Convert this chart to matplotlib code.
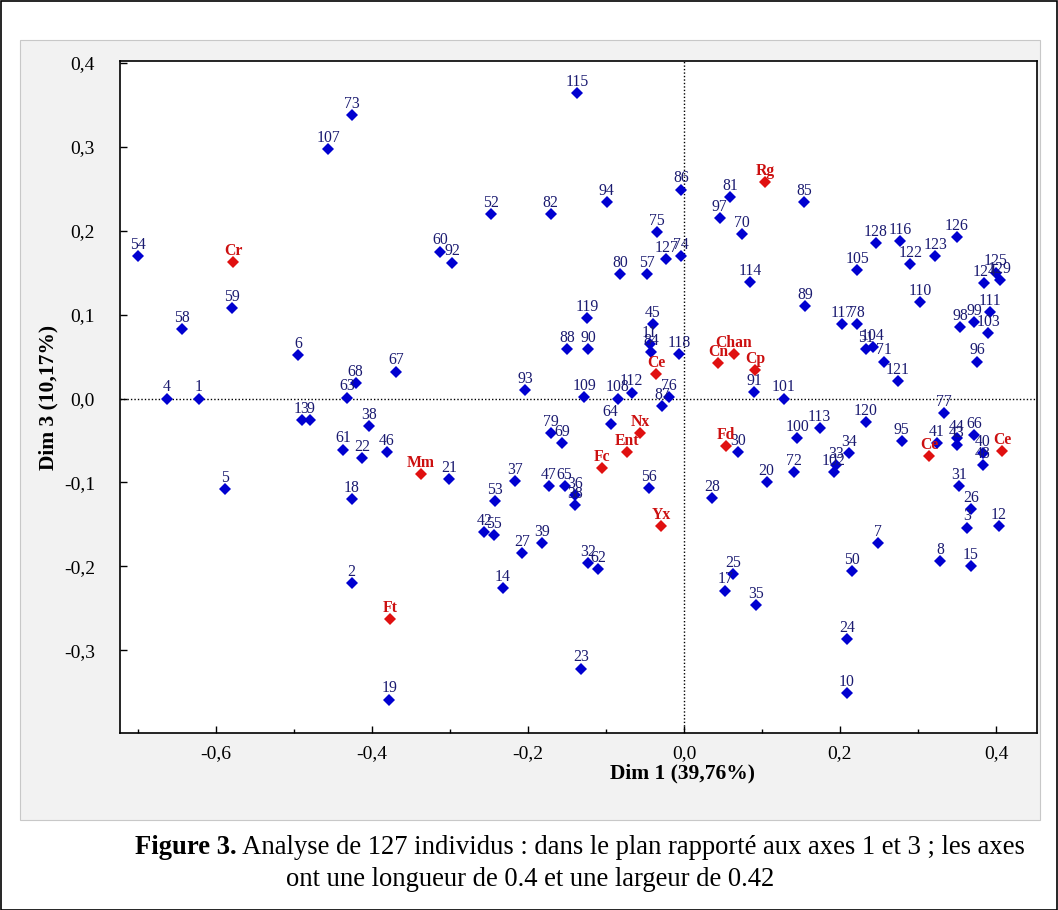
import matplotlib
matplotlib.use("Agg")
import matplotlib.pyplot as plt
from matplotlib.ticker import MultipleLocator, FuncFormatter
from matplotlib.patches import Rectangle

# ---- data (Dim 1, Dim 3 coordinates) ----
ind_labels = ["1", "2", "3", "4", "5", "6", "7", "8", "9", "10",
              "11", "12", "13", "14", "15", "17", "18", "19", "20", "21",
              "22", "23", "24", "25", "26", "27", "28", "30", "31", "32",
              "33", "34", "35", "36", "38", "37", "38", "39", "40", "41",
              "42", "43", "44", "45", "46", "47", "48", "50", "51", "52",
              "53", "54", "55", "56", "57", "58", "59", "60", "61", "62",
              "63", "64", "65", "66", "67", "68", "69", "70", "71", "72",
              "73", "74", "75", "76", "77", "78", "79", "80", "81", "82",
              "84", "85", "86", "87", "88", "89", "90", "91", "92", "93",
              "94", "95", "96", "97", "98", "99", "100", "101", "102", "103",
              "104", "105", "107", "108", "109", "110", "111", "112", "113", "114",
              "115", "116", "117", "118", "119", "120", "121", "122", "123", "124",
              "125", "126", "127", "128", "129"]
ind_dim1 = [-0.622, -0.426, 0.363, -0.663, -0.588, -0.495, 0.249, 0.328, -0.479, 0.209,
            -0.044, 0.404, -0.490, -0.232, 0.368, 0.053, -0.426, -0.378, 0.106, -0.301,
            -0.413, -0.132, 0.209, 0.063, 0.368, -0.208, 0.036, 0.069, 0.353, -0.123,
            0.195, 0.212, 0.092, -0.140, -0.140, -0.217, -0.404, -0.182, 0.383, 0.324,
            -0.256, 0.350, 0.350, -0.040, -0.381, -0.173, 0.383, 0.215, 0.233, -0.247,
            -0.242, -0.700, -0.244, -0.045, -0.047, -0.644, -0.579, -0.313, -0.437, -0.110,
            -0.432, -0.094, -0.153, 0.372, -0.369, -0.421, -0.156, 0.074, 0.256, 0.141,
            -0.426, -0.004, -0.035, -0.019, 0.333, 0.222, -0.171, -0.082, 0.059, -0.171,
            -0.042, 0.154, -0.004, -0.028, -0.150, 0.155, -0.123, 0.090, -0.297, -0.204,
            -0.099, 0.279, 0.376, 0.046, 0.354, 0.372, 0.145, 0.128, 0.192, 0.390,
            0.242, 0.222, -0.456, -0.085, -0.128, 0.303, 0.392, -0.067, 0.174, 0.085,
            -0.137, 0.277, 0.203, -0.006, -0.124, 0.233, 0.274, 0.290, 0.322, 0.385,
            0.400, 0.350, -0.023, 0.246, 0.405]
ind_dim3 = [0.000, -0.220, -0.154, 0.000, -0.108, 0.052, -0.172, -0.194, -0.026, -0.351,
            0.065, -0.152, -0.026, -0.226, -0.200, -0.229, -0.120, -0.359, -0.100, -0.096,
            -0.071, -0.322, -0.287, -0.209, -0.132, -0.184, -0.119, -0.064, -0.104, -0.196,
            -0.079, -0.065, -0.246, -0.115, -0.127, -0.098, -0.033, -0.172, -0.065, -0.053,
            -0.159, -0.055, -0.047, 0.089, -0.064, -0.104, -0.079, -0.206, 0.059, 0.220,
            -0.122, 0.170, -0.163, -0.107, 0.148, 0.083, 0.108, 0.175, -0.061, -0.203,
            0.001, -0.030, -0.104, -0.044, 0.032, 0.018, -0.053, 0.196, 0.044, -0.088,
            0.338, 0.170, 0.198, 0.002, -0.017, 0.089, -0.041, 0.148, 0.240, 0.220,
            0.055, 0.234, 0.249, -0.009, 0.059, 0.110, 0.059, 0.008, 0.162, 0.010,
            0.234, -0.051, 0.044, 0.215, 0.085, 0.091, -0.047, 0.000, -0.088, 0.078,
            0.061, 0.153, 0.297, 0.000, 0.002, 0.115, 0.103, 0.007, -0.035, 0.139,
            0.364, 0.188, 0.089, 0.053, 0.096, -0.028, 0.021, 0.160, 0.170, 0.138,
            0.150, 0.192, 0.166, 0.185, 0.141]

var_labels = ["Cr", "Rg", "Chan", "Cn", "Cp", "Ce", "Nx", "Ent", "Fc", "Fd",
              "Yx", "Mm", "Ft", "Ce", "Ce"]
var_dim1 = [-0.578, 0.104, 0.064, 0.044, 0.091, -0.036, -0.056, -0.073, -0.105, 0.054,
            -0.029, -0.337, -0.377, 0.314, 0.408]
var_dim3 = [0.163, 0.258, 0.053, 0.042, 0.034, 0.029, -0.041, -0.064, -0.083, -0.057,
            -0.152, -0.090, -0.263, -0.069, -0.063]

x_title = "Dim 1 (39,76%)"
y_title = "Dim 3 (10,17%)"
caption_bold = "Figure 3."
caption_rest = " Analyse de 127 individus : dans le plan rapporté aux axes 1 et 3 ; les axes"
caption_line2 = "ont une longueur de 0.4 et une largeur de 0.42"

# ---- figure ----
W, H = 1058, 910
fig = plt.figure(figsize=(W / 100, H / 100), dpi=100)
fig.patch.set_facecolor("white")
serif = ["Liberation Serif", "DejaVu Serif"]

# outer border and grey panel
fig.add_artist(Rectangle((0.5 / W, 0.5 / H), 1 - 1.5 / W, 1 - 1.5 / H, transform=fig.transFigure,
                         fill=False, edgecolor="black", linewidth=1.2))
fig.add_artist(Rectangle((20 / W, 1 - 820 / H), 1020 / W, 780 / H, transform=fig.transFigure,
                         facecolor="#f2f2f2", edgecolor="#c8c8c8", linewidth=0.8, zorder=0))

ax = fig.add_axes([120 / W, 1 - 733 / H, (1037 - 120) / W, (733 - 61) / H])
ax.set_facecolor("white")
ax.set_xlim(-0.7231, 0.4526)
ax.set_ylim(-0.3987, 0.4023)

ax.axhline(0, color="black", linestyle=(0, (1, 1.5)), linewidth=1.0, zorder=1)
ax.axvline(0, color="black", linestyle=(0, (1, 1.5)), linewidth=1.0, zorder=1)

ax.plot(ind_dim1, ind_dim3, linestyle="none", marker="D", markersize=6.3,
        color="#0000d0", markeredgewidth=0, zorder=3)
ax.plot(var_dim1, var_dim3, linestyle="none", marker="D", markersize=6.3,
        color="#e01010", markeredgewidth=0, zorder=3)

for lab, x, y in zip(ind_labels, ind_dim1, ind_dim3):
    ax.annotate(lab, (x, y), xytext=(0, 5.2), textcoords="offset points",
                ha="center", va="baseline", fontsize=11.3, family=serif,
                color="#1a1a70", zorder=4)
for lab, x, y in zip(var_labels, var_dim1, var_dim3):
    ax.annotate(lab, (x, y), xytext=(0, 5.2), textcoords="offset points",
                ha="center", va="baseline", fontsize=11.3, family=serif,
                color="#cc1010", fontweight="bold", zorder=4)

comma = FuncFormatter(lambda v, p: ("%.1f" % v).replace(".", ",").replace("-0,0", "0,0"))
ax.xaxis.set_major_locator(MultipleLocator(0.2))
ax.xaxis.set_minor_locator(MultipleLocator(0.1))
ax.yaxis.set_major_locator(MultipleLocator(0.1))
ax.xaxis.set_major_formatter(comma)
ax.yaxis.set_major_formatter(comma)
ax.tick_params(axis="x", which="major", direction="in", length=5, width=1,
               labelsize=14, pad=9)
ax.tick_params(axis="y", which="major", direction="in", length=5, width=1,
               labelsize=14, pad=18)
ax.tick_params(axis="both", which="minor", direction="in", length=3, width=1)
for t in ax.get_xticklabels() + ax.get_yticklabels():
    t.set_family(serif)
for s in ax.spines.values():
    s.set_linewidth(1.2)

ax.set_xlabel(x_title, fontsize=15.5, fontweight="bold", family=serif)
ax.set_ylabel(y_title, fontsize=15.5, fontweight="bold", family=serif)
ax.xaxis.set_label_coords((683 - 120) / 917, (733 - 763) / 672)
ax.yaxis.set_label_coords((58 - 120) / 917, 0.5)

# caption
fig.canvas.draw()
r = fig.canvas.get_renderer()
t1 = fig.text(135 / W, 1 - 847 / H, caption_bold, fontsize=19.2, fontweight="bold",
              family=serif, ha="left", va="center")
bb = t1.get_window_extent(renderer=r)
fig.text(bb.x1 / W, 1 - 847 / H, caption_rest, fontsize=19.2, family=serif,
         ha="left", va="center")
fig.text(530 / W, 1 - 879 / H, caption_line2, fontsize=19.2, family=serif,
         ha="center", va="center")

fig.savefig("out.png", dpi=100)
